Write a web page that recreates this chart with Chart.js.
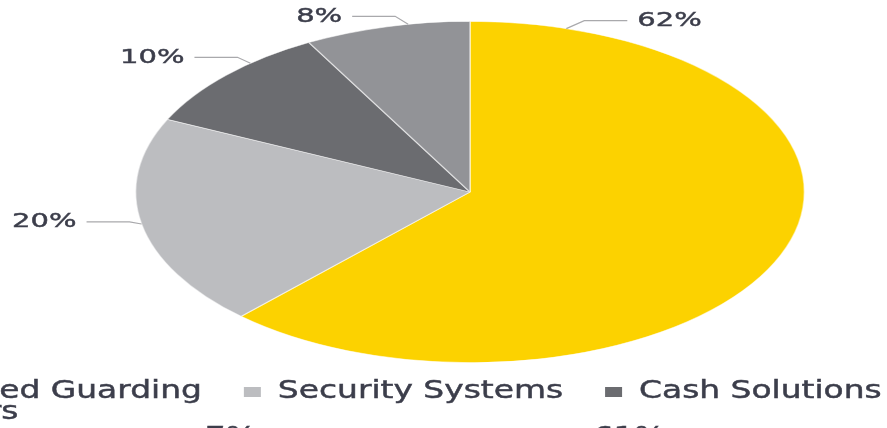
<!DOCTYPE html>
<html>
<head>
<meta charset="utf-8">
<script src="https://cdn.jsdelivr.net/npm/chart.js@4.4.1/dist/chart.umd.min.js"></script>
<style>
  html, body { margin: 0; padding: 0; background: #fff; overflow: hidden; }
  #wrap { position: relative; width: 887px; height: 428px; }
</style>
</head>
<body>
<div id="wrap"><canvas id="pie" width="887" height="428"></canvas></div>
<script>
// revenue split by business line (%)
const segments = ['Manned Guarding', 'Security Systems', 'Cash Solutions', 'Others'];
const shares = [62, 20, 10, 8];
const colors = ['#FCD200', '#BCBDC0', '#6B6C70', '#929397'];
// first labels of the next chart down the page
const nextChartLabels = ['7%', '61%'];

const STRETCH = 1.96;           // pie is drawn as a wide ellipse
const FONT = '"DejaVu Sans", sans-serif';
const INK = '#3c3e4b';

// where each leader line leaves its slice (0..1 along the arc) and its bend
const leaderAnchor = [0.075, 0.5, 0.66, 0.63];
const leaderBend = [[18, -8], [-12, -2], [-13, -6], [-13, -8]];

function wideText(ctx, txt, x, y, size, scale, align, baseline) {
    ctx.save();
    ctx.translate(x, y);
    ctx.scale(scale, 1);
    ctx.font = size + 'px ' + FONT;
    ctx.textAlign = align;
    ctx.textBaseline = baseline || 'alphabetic';
    ctx.fillStyle = INK;
    ctx.strokeStyle = INK;
    ctx.lineWidth = 0.45;
    ctx.fillText(txt, 0, 0);
    ctx.strokeText(txt, 0, 0);
    ctx.restore();
}

function textWidth(ctx, txt, size, scale) {
    ctx.save();
    ctx.font = size + 'px ' + FONT;
    const w = ctx.measureText(txt).width * scale;
    ctx.restore();
    return w;
}

// squash the slices horizontally around the pie centre
const ellipse = {
    id: 'ellipse',
    beforeDatasetsDraw(chart) {
        const arc = chart.getDatasetMeta(0).data[0];
        const ctx = chart.ctx;
        ctx.save();
        ctx.translate(arc.x, 0);
        ctx.scale(STRETCH, 1);
        ctx.translate(-arc.x, 0);
    },
    afterDatasetsDraw(chart) {
        chart.ctx.restore();
    }
};

// percentage labels with elbow leader lines
const callouts = {
    id: 'callouts',
    afterDraw(chart) {
        const ctx = chart.ctx;
        chart.getDatasetMeta(0).data.forEach((arc, i) => {
            const a = arc.startAngle + (arc.endAngle - arc.startAngle) * leaderAnchor[i];
            const px = arc.x + Math.cos(a) * arc.outerRadius * STRETCH;
            const py = arc.y + Math.sin(a) * arc.outerRadius;
            const ex = px + leaderBend[i][0];
            const ey = py + leaderBend[i][1];
            const dir = Math.sign(leaderBend[i][0]);
            const hx = ex + dir * 43;

            ctx.save();
            ctx.strokeStyle = '#a9a9ac';
            ctx.lineWidth = 1.2;
            ctx.beginPath();
            ctx.moveTo(px, py);
            ctx.lineTo(ex, ey);
            ctx.lineTo(hx, ey);
            ctx.stroke();
            ctx.restore();

            wideText(ctx, shares[i] + '%', hx + dir * 10, ey, 20, 1.45, dir > 0 ? 'left' : 'right', 'middle');
        });
    }
};

// legend rows (the page crops its left edge)
const legendRows = [[0, 1, 2], [3]];
const legend = {
    id: 'flatLegend',
    afterDraw(chart) {
        const ctx = chart.ctx;
        const size = 24, scale = 1.37;
        const rowStart = [-125, -126];
        const baselines = [398, 419];
        legendRows.forEach((row, r) => {
            let x = rowStart[r];
            const base = baselines[r];
            row.forEach(i => {
                ctx.fillStyle = colors[i];
                ctx.fillRect(x, base - 11, 17, 10);
                x += 34;
                wideText(ctx, segments[i], x, base, size, scale, 'left');
                x += textWidth(ctx, segments[i], size, scale) + 42;
            });
        });

        // top of the next chart peeking in at the bottom edge
        wideText(ctx, nextChartLabels[0], 205, 444, 24, 1.35, 'left');
        wideText(ctx, nextChartLabels[1], 593, 444, 24, 1.35, 'left');
    }
};

new Chart(document.getElementById('pie'), {
    type: 'pie',
    data: {
        labels: segments,
        datasets: [{
            data: shares,
            backgroundColor: colors,
            borderColor: 'rgba(255,255,255,0.55)',
            borderWidth: 0.8,
            clip: false
        }]
    },
    options: {
        responsive: false,
        animation: false,
        layout: { padding: { top: 21, bottom: 65, left: 270, right: 217 } },
        plugins: { legend: { display: false }, tooltip: { enabled: false } }
    },
    plugins: [ellipse, callouts, legend]
});
</script>
</body>
</html>
